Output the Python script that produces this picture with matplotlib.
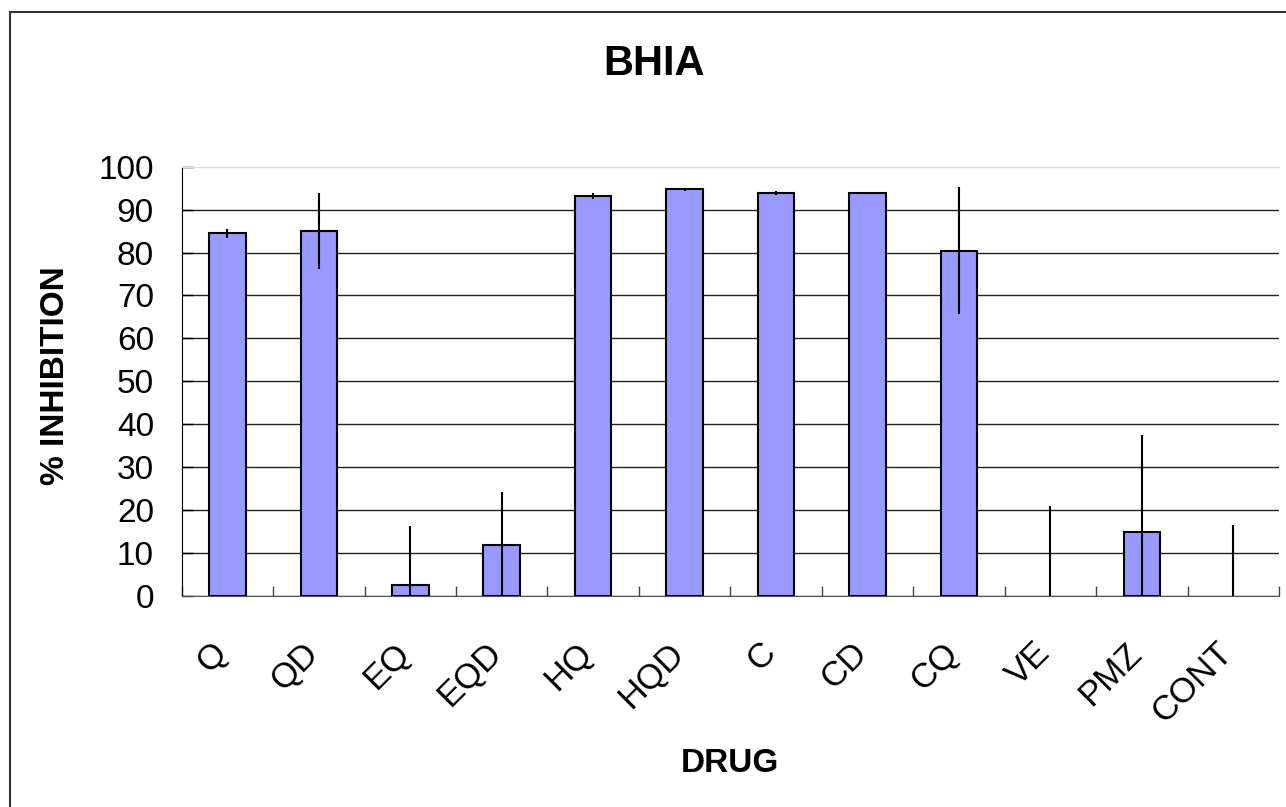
import matplotlib.pyplot as plt
from matplotlib.patches import Rectangle
from matplotlib.transforms import ScaledTranslation
import numpy as np

drugs = ["Q", "QD", "EQ", "EQD", "HQ", "HQD", "C", "CD", "CQ", "VE", "PMZ", "CONT"]
inhibition = [84.5, 85.0, 2.6, 11.9, 93.1, 94.7, 93.9, 93.9, 80.4, 0.0, 14.8, 0.0]
errors = [1.1, 8.9, 13.6, 12.4, 0.7, 0.4, 0.4, 0.3, 14.8, 21.0, 22.6, 16.5]
y_ticks = [0, 10, 20, 30, 40, 50, 60, 70, 80, 90, 100]

plt.rcParams['font.family'] = ['Liberation Sans', 'DejaVu Sans']

W, H = 1286, 807
fig = plt.figure(figsize=(W / 100, H / 100), dpi=100)
ax = fig.add_axes([181.7 / W, 1 - 596 / H, (1279 - 181.7) / W, (596 - 166.7) / H])

x = np.arange(len(drugs))
bars = ax.bar(x, inhibition, width=0.4, color="#9999ff", edgecolor="black",
              linewidth=1.5, zorder=2)
for b, v in zip(bars, inhibition):
    if v == 0:
        b.set_linewidth(0)
ax.errorbar(x, inhibition, yerr=errors, fmt="none", ecolor="black",
            elinewidth=1.5, capsize=0, zorder=3)

ax.set_xlim(-0.5, len(drugs) - 0.5)
ax.set_ylim(0, 100)
ax.set_yticks(y_ticks)
ax.tick_params(axis="y", direction="in", length=8, width=1, pad=20, labelsize=24)
ax.yaxis.grid(True, color="#222222", linewidth=1)
ax.set_axisbelow(True)
ax.get_ygridlines()[-1].set_color("#dddddd")

ax.set_xticks(x)
ax.set_xticks(np.arange(len(drugs) + 1) - 0.5, minor=True)
ax.tick_params(axis="x", which="major", length=0, pad=0)
ax.tick_params(axis="x", which="minor", direction="in", length=7, width=1, color="#444444")
ax.set_xticklabels(drugs, rotation=45, ha="right", va="center",
                   rotation_mode="anchor", fontsize=25)
shift = ScaledTranslation(-6 / 100, -52 / 100, fig.dpi_scale_trans)
for lab in ax.get_xticklabels():
    lab.set_transform(lab.get_transform() + shift)

ax.spines["right"].set_visible(False)
ax.spines["top"].set_color("#dddddd")
ax.spines["left"].set_color("black")
ax.spines["bottom"].set_color("#555555")

fig.text(654 / W, 1 - 64 / H, "BHIA", ha="center", va="center",
         fontsize=30, fontweight="bold")
fig.text(56 / W, 1 - 376 / H, "% INHIBITION", ha="center", va="center",
         rotation=90, fontsize=24, fontweight="bold")
fig.text(730 / W, 1 - 764 / H, "DRUG", ha="center", va="center",
         fontsize=24, fontweight="bold")

fig.patches.append(Rectangle((9.5 / W, -0.05), 1.1, 1.05 - 12 / H,
                             transform=fig.transFigure, fill=False,
                             edgecolor="#333333", linewidth=1.5))

fig.savefig("out.png", dpi=100)
